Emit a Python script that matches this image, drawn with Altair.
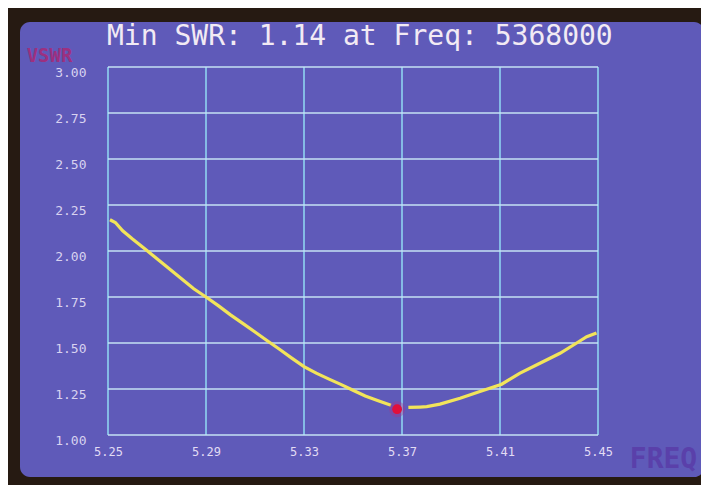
import altair as alt
import pandas as pd

# ---- data ----
freq_left = [5.2508, 5.2530, 5.2560, 5.2600, 5.2650, 5.2700, 5.2750, 5.2800, 5.2850,
             5.2900, 5.2950, 5.3000, 5.3050, 5.3100, 5.3150, 5.3200, 5.3250, 5.3300,
             5.3350, 5.3400, 5.3450, 5.3500, 5.3550, 5.3600, 5.3655]
swr_left = [2.170, 2.155, 2.110, 2.065, 2.012, 1.958, 1.904, 1.849, 1.795,
            1.750, 1.703, 1.653, 1.607, 1.560, 1.512, 1.466, 1.418, 1.372,
            1.336, 1.305, 1.275, 1.243, 1.212, 1.188, 1.162]
freq_right = [5.3726, 5.3773, 5.3801, 5.3855, 5.3937, 5.4018, 5.4107, 5.4180,
              5.4263, 5.4345, 5.4413, 5.4454, 5.4494]
swr_right = [1.150, 1.152, 1.154, 1.168, 1.200, 1.236, 1.276, 1.335,
             1.390, 1.444, 1.500, 1.534, 1.554]
min_freq = [5.368]
min_swr = [1.14]
x_ticks = [5.25, 5.29, 5.33, 5.37, 5.41, 5.45]
y_ticks = [1.00, 1.25, 1.50, 1.75, 2.00, 2.25, 2.50, 2.75, 3.00]

curve = pd.DataFrame({
    "freq": freq_left + freq_right,
    "vswr": swr_left + swr_right,
    "seg": ["a"] * len(freq_left) + ["b"] * len(freq_right),
})
dot = pd.DataFrame({"freq": min_freq, "vswr": min_swr})
xt = pd.DataFrame({"freq": x_ticks})
yt = pd.DataFrame({"vswr": y_ticks})

title_text = f"Min SWR: {min_swr[0]:.2f} at Freq: {int(round(min_freq[0] * 1e6))}"

MONO = "DejaVu Sans Mono"
xs = alt.Scale(domain=[5.25, 5.45], nice=False, zero=False)
ys = alt.Scale(domain=[1.0, 3.0], nice=False, zero=False)

xax = alt.Axis(values=x_ticks, format=".2f", grid=False, domain=False, ticks=False,
               labelFont=MONO, labelFontSize=12, labelColor="#e2dcf4", labelPadding=11,
               labelFlush=False, zindex=1,
               title="FREQ", titleFont=MONO, titleFontSize=28, titleFontWeight="bold",
               titleColor="#5a40aa", titleX=555, titleY=24, titleAlign="center",
               titleBaseline="middle")
yax = alt.Axis(values=y_ticks, format=".2f", grid=False, domain=False, ticks=False,
               labelFont=MONO, labelFontSize=13, labelColor="#d8d2f0", labelPadding=22,
               labelOffset=5, labelFlush=False, zindex=1,
               title="VSWR", titleFont=MONO, titleFontSize=19, titleFontWeight="bold",
               titleColor="#9c3080", titleAngle=0, titleX=-59, titleY=-12,
               titleAlign="center", titleBaseline="middle")

screen = alt.Chart(pd.DataFrame({"k": [0]})).mark_rect(
    color="#5f5ab9", cornerRadius=10
).encode(x=alt.value(-88), x2=alt.value(596), y=alt.value(-45), y2=alt.value(410))

title = alt.Chart(pd.DataFrame({"t": [title_text]})).mark_text(
    font=MONO, fontSize=28, color="#f2eaf4", align="left", baseline="alphabetic"
).encode(text="t:N", x=alt.value(-1), y=alt.value(-22))

vgrid = alt.Chart(xt).mark_rule(color="#8fd3f0", strokeWidth=1.6).encode(
    x=alt.X("freq:Q", scale=xs, axis=xax)
)
hgrid = alt.Chart(yt).mark_rule(color="#c4e2f4", strokeWidth=1.6).encode(
    y=alt.Y("vswr:Q", scale=ys, axis=yax)
)
line = alt.Chart(curve).mark_line(color="#f2e45a", strokeWidth=3.2).encode(
    x=alt.X("freq:Q", scale=xs, axis=xax),
    y=alt.Y("vswr:Q", scale=ys, axis=yax),
    detail="seg:N",
)
glow = alt.Chart(dot).mark_circle(color="#b0308a", size=260, opacity=0.35).encode(
    x=alt.X("freq:Q", scale=xs, axis=xax),
    y=alt.Y("vswr:Q", scale=ys, axis=yax),
)
point = alt.Chart(dot).mark_circle(color="#e0103c", size=95, opacity=1).encode(
    x=alt.X("freq:Q", scale=xs, axis=xax),
    y=alt.Y("vswr:Q", scale=ys, axis=yax),
)

chart = alt.layer(screen, title, vgrid, hgrid, line, glow, point).properties(
    width=490, height=368,
    autosize=alt.AutoSizeParams(type="none"),
    padding={"left": 100, "top": 59, "right": 103, "bottom": 50},
    background="#261a12",
).configure_view(stroke=None)

chart.save("out.html", embed_options={"renderer": "svg", "actions": False})
